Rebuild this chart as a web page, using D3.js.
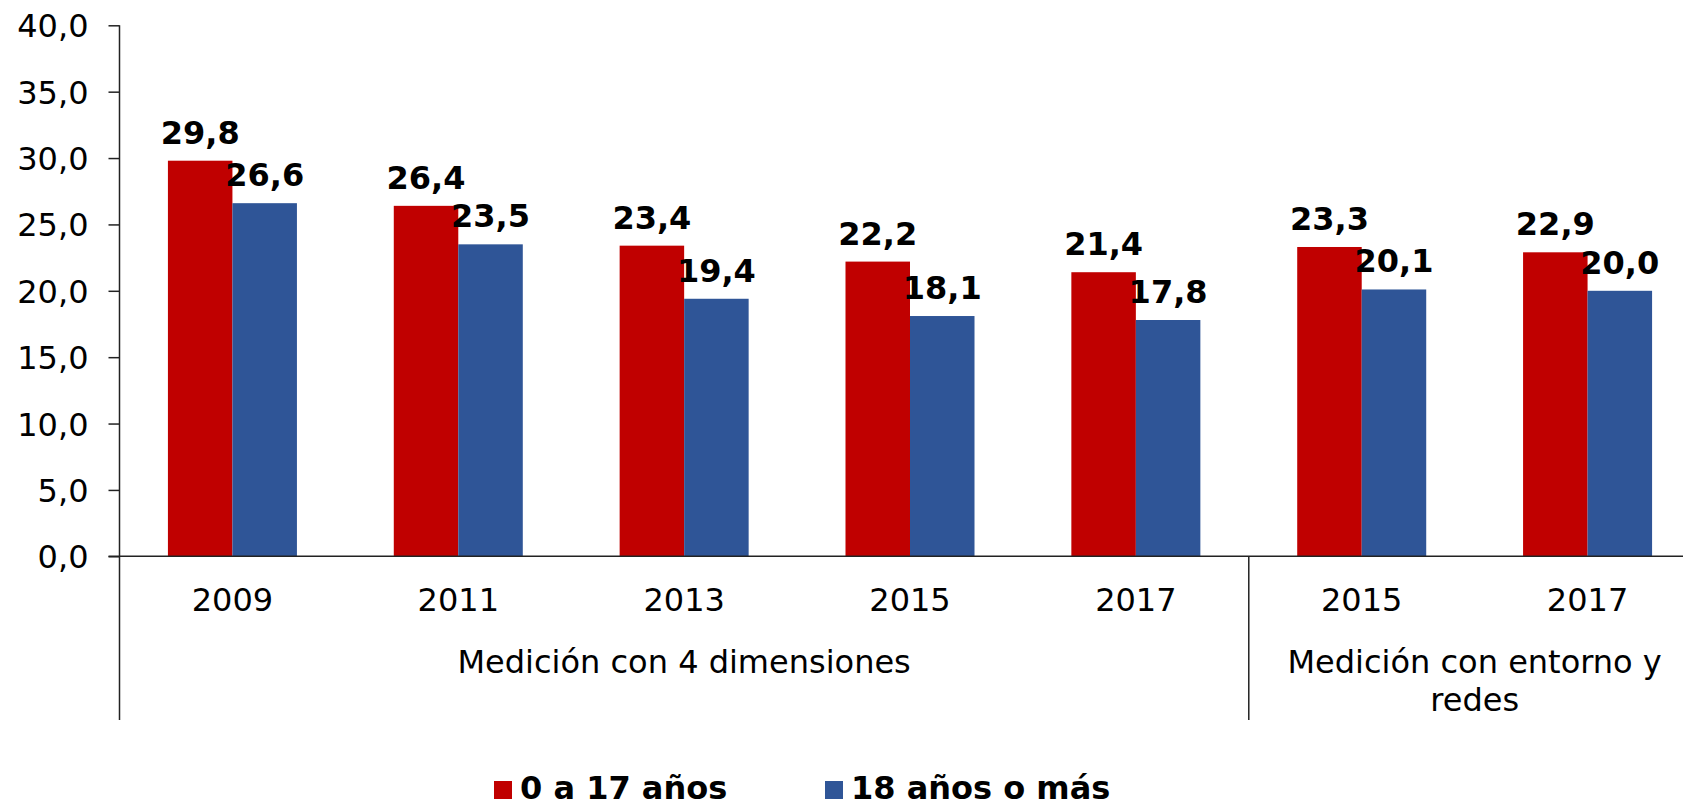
<!DOCTYPE html>
<html>
<head>
<meta charset="utf-8">
<script src="https://cdn.jsdelivr.net/npm/d3@7"></script>
<style>
  html, body { margin: 0; padding: 0; background: #fff; }
  svg { display: block; }
  text { font-family: "DejaVu Sans", Verdana, sans-serif; fill: #000; }
</style>
</head>
<body>
<svg id="chart" width="1683" height="807"></svg>
<script>
// ---- data ----
const categories = ["2009", "2011", "2013", "2015", "2017", "2015", "2017"];
const seriesNames = ["0 a 17 años", "18 años o más"];
const seriesChildren = [29.8, 26.4, 23.4, 22.2, 21.4, 23.3, 22.9];
const seriesAdults   = [26.6, 23.5, 19.4, 18.1, 17.8, 20.1, 20.0];
const yTicks = [0, 5, 10, 15, 20, 25, 30, 35, 40];
const groupLabels = [["Medición con 4 dimensiones"], ["Medición con entorno y", "redes"]];
const groupSpans = [[0, 4], [5, 6]];

const colors = ["#C00000", "#2F5597"];
const seriesValues = [seriesChildren, seriesAdults];

const svg = d3.select("#chart");
const fmt = v => d3.format(".1f")(v).replace(".", ",");

const x0 = 119.5, x1 = 1700.5;
const yBase = 556.3, yTop = 25.3;

const x = d3.scaleBand()
  .domain(d3.range(categories.length))
  .range([x0, x1])
  .paddingInner(0.4288)
  .paddingOuter(0.2144);
const xs = d3.scaleBand().domain([0, 1]).range([0, x.bandwidth()]);
const y = d3.scaleLinear().domain([0, 40]).range([yBase, yTop]);

// bars
const rows = categories.map((c, i) => ({ i, vals: seriesValues.map(s => s[i]) }));
const g = svg.append("g");
const grp = g.selectAll("g.cat").data(rows).join("g")
  .attr("transform", d => `translate(${x(d.i)},0)`);
grp.selectAll("rect").data(d => d.vals.map((v, k) => ({ v, k }))).join("rect")
  .attr("x", d => xs(d.k))
  .attr("width", xs.bandwidth())
  .attr("y", d => y(d.v))
  .attr("height", d => y(0) - y(d.v))
  .attr("fill", d => colors[d.k]);
grp.selectAll("text.val").data(d => d.vals.map((v, k) => ({ v, k }))).join("text")
  .attr("class", "val")
  .attr("x", d => xs(d.k) + xs.bandwidth() / 2)
  .attr("y", d => y(d.v) - 17)
  .attr("text-anchor", "middle")
  .attr("font-size", 32)
  .attr("font-weight", "bold")
  .text(d => fmt(d.v));

// y axis
const yAxis = d3.axisLeft(y).tickValues(yTicks).tickSize(11).tickPadding(20).tickFormat(fmt);
const ya = svg.append("g").attr("transform", `translate(${x0},0)`).call(yAxis);
ya.select(".domain").remove();
ya.selectAll(".tick line").attr("stroke", "#222").attr("stroke-width", 1.5);
ya.selectAll(".tick text").attr("font-size", 32).attr("font-family", "DejaVu Sans, Verdana, sans-serif").attr("fill", "#000").attr("dy", "0.36em");
svg.append("line").attr("x1", x0).attr("x2", x0).attr("y1", yTop).attr("y2", 720)
  .attr("stroke", "#222").attr("stroke-width", 1.5);

// x axis baseline
svg.append("line").attr("x1", x0 - 11).attr("x2", 1683).attr("y1", yBase).attr("y2", yBase)
  .attr("stroke", "#222").attr("stroke-width", 1.5);

// divider between groups
const step = x.step();
const divX = x0 + 5 * step;
svg.append("line").attr("x1", divX).attr("x2", divX).attr("y1", yBase).attr("y2", 720)
  .attr("stroke", "#222").attr("stroke-width", 1.5);

// category labels
svg.selectAll("text.cat").data(rows).join("text")
  .attr("class", "cat")
  .attr("x", d => x(d.i) + x.bandwidth() / 2)
  .attr("y", 611)
  .attr("text-anchor", "middle")
  .attr("font-size", 32)
  .text(d => categories[d.i]);

// group labels
groupLabels.forEach((lines, gi) => {
  const [a, b] = groupSpans[gi];
  const cx = (x0 + a * step + x0 + (b + 1) * step) / 2;
  const t = svg.append("text").attr("text-anchor", "middle").attr("font-size", 32);
  lines.forEach((ln, li) => {
    t.append("tspan").attr("x", cx).attr("y", 673 + li * 38).text(ln);
  });
});

// legend
const legendX = [494, 825];
seriesNames.forEach((name, k) => {
  const lg = svg.append("g").attr("transform", `translate(${legendX[k]},0)`);
  lg.append("rect").attr("x", 0).attr("y", 781).attr("width", 18).attr("height", 18).attr("fill", colors[k]);
  lg.append("text").attr("x", 26).attr("y", 799).attr("font-size", 32).attr("font-weight", "bold").text(name);
});
</script>
</body>
</html>
